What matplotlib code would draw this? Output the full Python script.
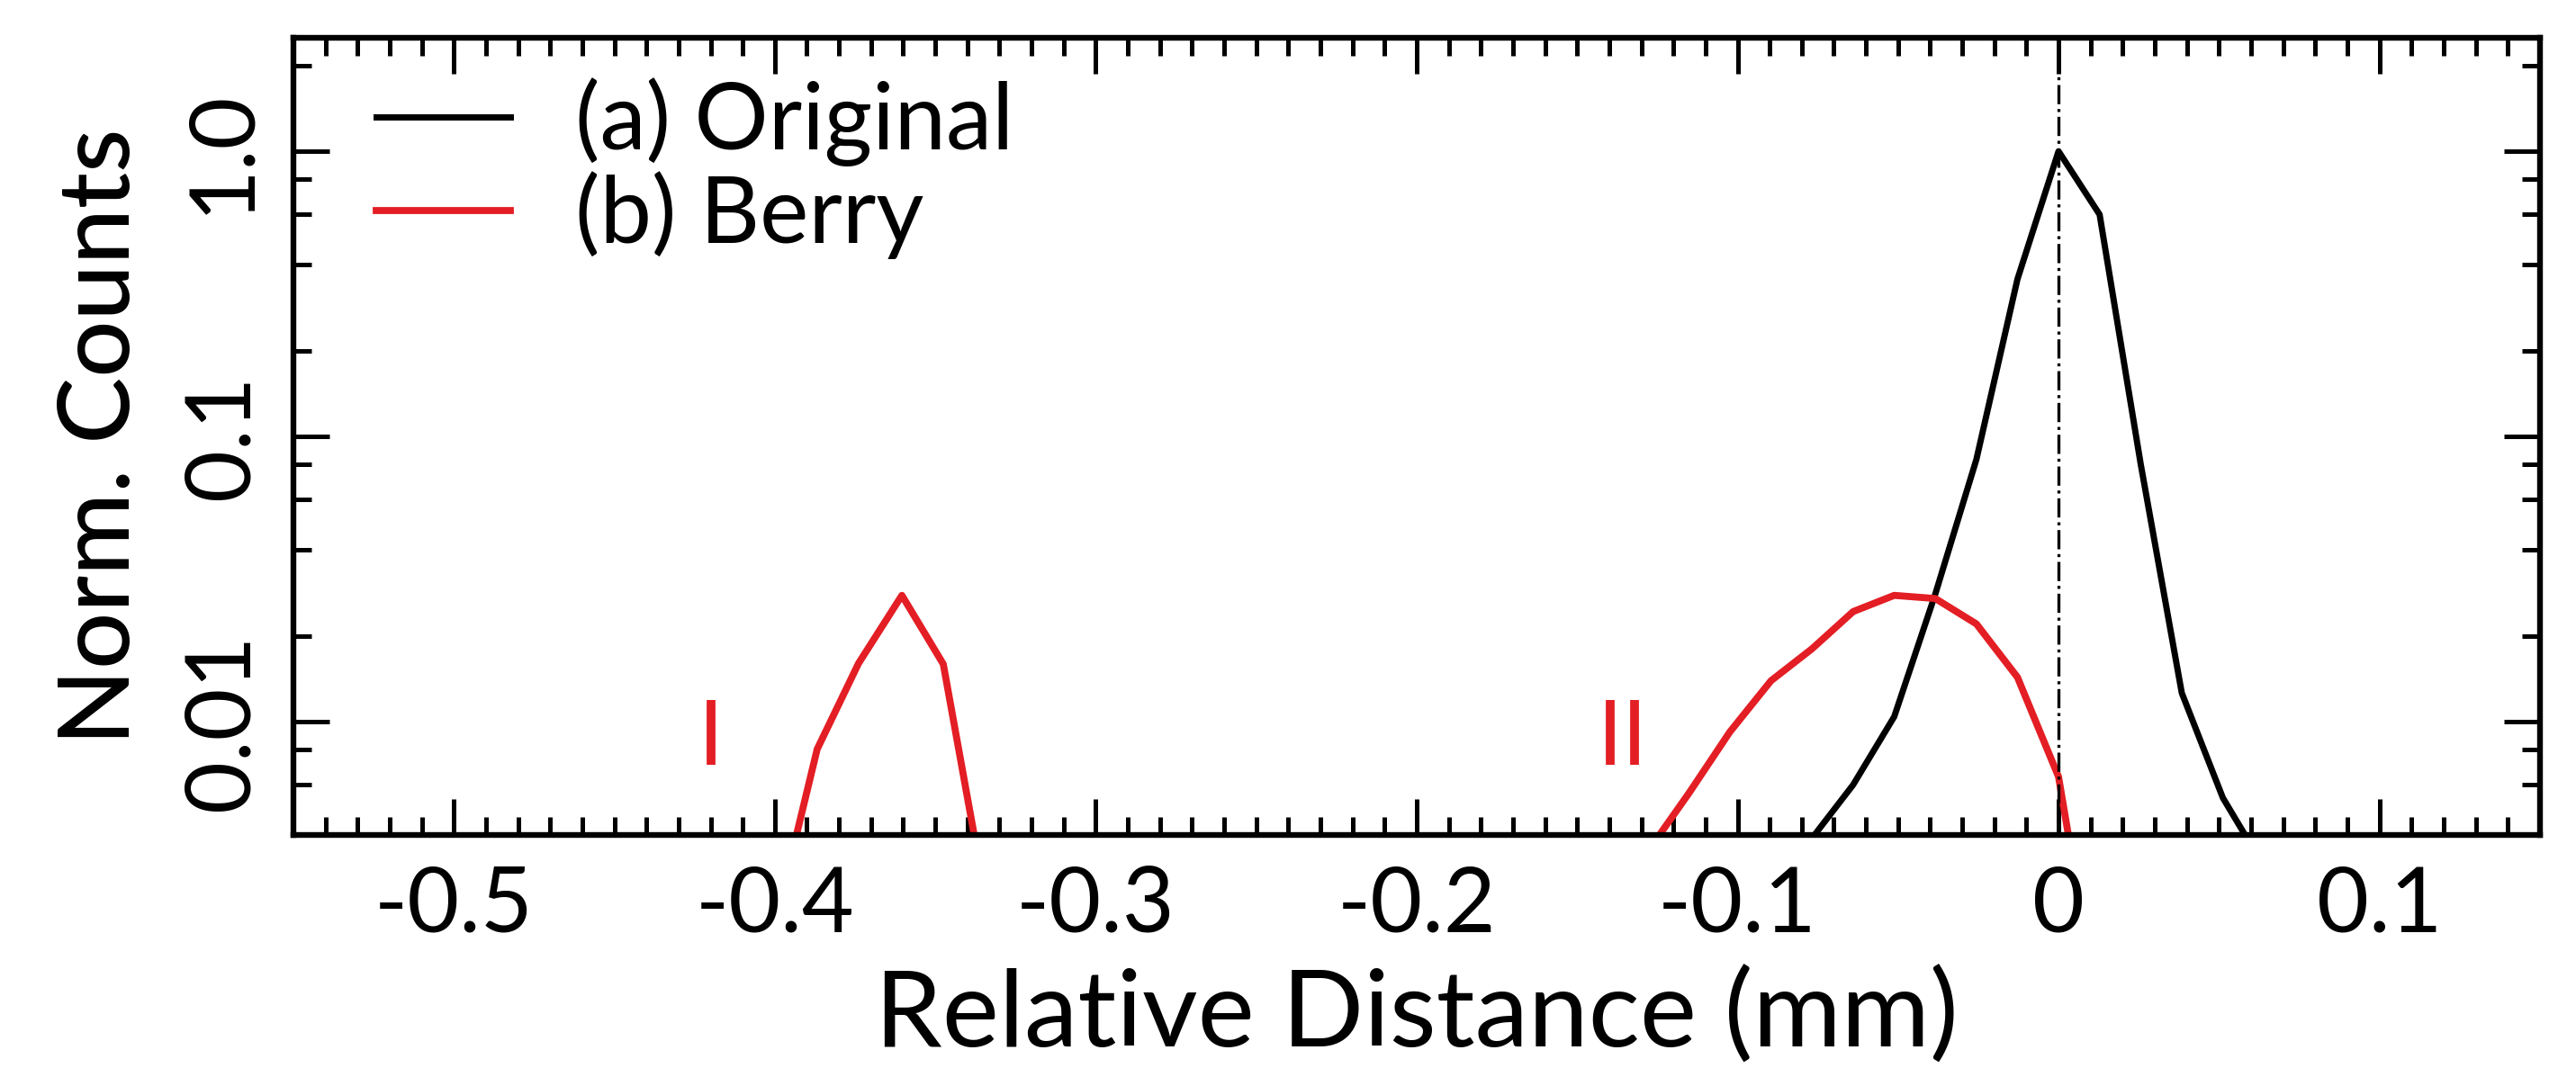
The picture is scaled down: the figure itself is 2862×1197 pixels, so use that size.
import matplotlib
matplotlib.use("Agg")
import matplotlib.pyplot as plt
from matplotlib.ticker import FixedLocator, MultipleLocator, LogLocator, NullFormatter
import numpy as np

# Data
x_orig = [-0.0896, -0.0768, -0.064, -0.0512, -0.0384, -0.0256, -0.0128,
          0.0, 0.0128, 0.0256, 0.0384, 0.0512, 0.064]
y_orig = [0.002, 0.0039, 0.006, 0.0104, 0.028, 0.083, 0.356,
          1.0, 0.6, 0.08, 0.0126, 0.0054, 0.0031]

# Berry: peak I and peak II (the line drops below the axis between them)
x_berry_1 = [-0.3997, -0.3868, -0.3739, -0.3604, -0.3475, -0.3346]
y_berry_1 = [0.002, 0.008, 0.016, 0.0277, 0.0159, 0.0025]
x_berry_2 = [-0.128, -0.1152, -0.1024, -0.0896, -0.0768, -0.064, -0.0512,
             -0.0384, -0.0256, -0.0128, 0.0, 0.0128]
y_berry_2 = [0.0035, 0.0056, 0.0092, 0.0139, 0.018, 0.0243, 0.0277,
             0.027, 0.022, 0.0143, 0.0064, 0.0009]

x_ticks = [-0.5, -0.4, -0.3, -0.2, -0.1, 0.0, 0.1]
x_ticklabels = ["-0.5", "-0.4", "-0.3", "-0.2", "-0.1", "0", "0.1"]
y_ticks = [0.01, 0.1, 1.0]
y_ticklabels = ["0.01", "0.1", "1.0"]

peak_labels = ["I", "II"]
peak_label_x = [-0.42, -0.1357]
peak_label_y = 0.0087

RED = "#e31e24"
FONT = "Lato"

plt.rcParams["font.family"] = [FONT, "DejaVu Sans"]

fig = plt.figure(figsize=(14.31, 5.985), dpi=200)
ax = fig.add_axes([0.1139, 0.2247, 0.8721, 0.7402])

ax.plot(x_orig, y_orig, color="black", lw=2.5, label="(a) Original")
x_berry = x_berry_1 + [np.nan] + x_berry_2
y_berry = y_berry_1 + [np.nan] + y_berry_2
ax.plot(x_berry, y_berry, color=RED, lw=2.8, label="(b) Berry")
ax.axvline(0, color="black", lw=1.2, ls="-.")

for lab, xp in zip(peak_labels, peak_label_x):
    ax.text(xp, peak_label_y, lab, color=RED, fontsize=36,
            ha="center", va="center")

ax.set_yscale("log")
ax.set_xlim(-0.55, 0.15)
ax.set_ylim(0.004, 2.5)

ax.xaxis.set_major_locator(FixedLocator(x_ticks))
ax.set_xticklabels(x_ticklabels)
ax.xaxis.set_minor_locator(MultipleLocator(0.01))
ax.yaxis.set_major_locator(FixedLocator(y_ticks))
ax.set_yticklabels(y_ticklabels)
ax.yaxis.set_minor_locator(LogLocator(base=10, subs=(2, 4, 6, 8)))
ax.yaxis.set_minor_formatter(NullFormatter())

ax.tick_params(which="both", direction="in", top=True, right=True, width=1.8)
ax.tick_params(which="major", length=14.4)
ax.tick_params(which="minor", length=7.2)
ax.tick_params(axis="x", which="major", labelsize=36, pad=12)
ax.tick_params(axis="y", which="major", labelsize=36, pad=12, labelrotation=90)
for lab in ax.get_yticklabels():
    lab.set_va("center")

for sp in ax.spines.values():
    sp.set_linewidth(2.3)

ax.set_xlabel("Relative Distance (mm)", fontsize=43, labelpad=8)
ax.set_ylabel("Norm. Counts", fontsize=40, fontweight="medium", labelpad=14)

ax.legend(loc="upper left", bbox_to_anchor=(0.0369, 0.95), frameon=False,
          fontsize=37, handlelength=1.45, handletextpad=0.7,
          labelspacing=0.05, borderpad=0, borderaxespad=0)

fig.savefig("out.png", dpi=200)
